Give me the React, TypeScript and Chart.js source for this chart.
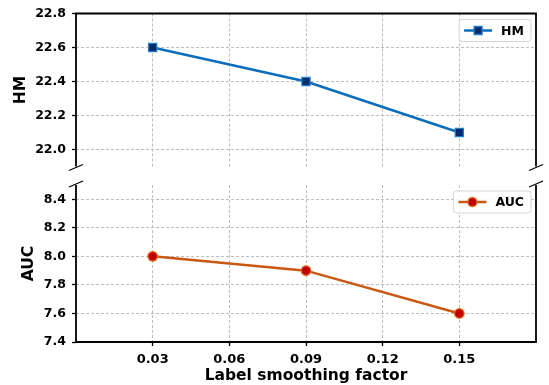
import React, { useEffect, useRef } from "react";
import { Chart, registerables } from "chart.js";

Chart.register(...registerables);

const xValues = [0.03, 0.09, 0.15];
const hmValues = [22.6, 22.4, 22.1];
const aucValues = [8.0, 7.9, 7.6];
const xTicks = [0.03, 0.06, 0.09, 0.12, 0.15];
const hmTicks = [22.0, 22.2, 22.4, 22.6, 22.8];
const aucTicks = [7.4, 7.6, 7.8, 8.0, 8.2, 8.4];

const FONT = "DejaVu Sans";
const GRID = "#bdbdbd";

type Part = "top" | "bottom";

function spinesPlugin(part: Part, legend: { label: string; line: string; fill: string; edge: string; style: string }) {
  return {
    id: "spines-" + part,
    afterDraw(chart: any) {
      const { ctx, chartArea } = chart;
      const { left, right, top, bottom } = chartArea;
      ctx.save();
      ctx.strokeStyle = "#000";
      ctx.lineWidth = 1.8;
      ctx.lineCap = "butt";
      ctx.beginPath();
      if (part === "top") {
        ctx.moveTo(left, bottom);
        ctx.lineTo(left, top);
        ctx.lineTo(right, top);
        ctx.lineTo(right, bottom);
      } else {
        ctx.moveTo(left, top);
        ctx.lineTo(left, bottom);
        ctx.lineTo(right, bottom);
        ctx.lineTo(right, top);
      }
      ctx.stroke();
      // break marks
      const by = part === "top" ? bottom + 1 : top - 1;
      ctx.lineWidth = 1.2;
      for (const bx of [left, right]) {
        ctx.beginPath();
        ctx.moveTo(bx - 7, by + 3);
        ctx.lineTo(bx + 7, by - 3);
        ctx.stroke();
      }
      // legend
      ctx.font = `bold 12.5px '${FONT}'`;
      const tw = ctx.measureText(legend.label).width;
      const boxW = 5 + 28 + 9 + tw + 7;
      const boxH = 22;
      const bx0 = right - 5 - boxW;
      const by0 = top + 6;
      ctx.beginPath();
      const r = 3;
      ctx.moveTo(bx0 + r, by0);
      ctx.lineTo(bx0 + boxW - r, by0);
      ctx.quadraticCurveTo(bx0 + boxW, by0, bx0 + boxW, by0 + r);
      ctx.lineTo(bx0 + boxW, by0 + boxH - r);
      ctx.quadraticCurveTo(bx0 + boxW, by0 + boxH, bx0 + boxW - r, by0 + boxH);
      ctx.lineTo(bx0 + r, by0 + boxH);
      ctx.quadraticCurveTo(bx0, by0 + boxH, bx0, by0 + boxH - r);
      ctx.lineTo(bx0, by0 + r);
      ctx.quadraticCurveTo(bx0, by0, bx0 + r, by0);
      ctx.closePath();
      ctx.fillStyle = "rgba(255,255,255,0.85)";
      ctx.fill();
      ctx.strokeStyle = "#d6d6d6";
      ctx.lineWidth = 1;
      ctx.stroke();
      const cy = by0 + boxH / 2;
      ctx.strokeStyle = legend.line;
      ctx.lineWidth = 2.5;
      ctx.beginPath();
      ctx.moveTo(bx0 + 5, cy);
      ctx.lineTo(bx0 + 33, cy);
      ctx.stroke();
      const mx = bx0 + 19;
      ctx.fillStyle = legend.fill;
      ctx.strokeStyle = legend.edge;
      ctx.lineWidth = 1.3;
      ctx.beginPath();
      if (legend.style === "rect") {
        ctx.rect(mx - 4, cy - 4, 8, 8);
      } else {
        ctx.arc(mx, cy, 4.5, 0, Math.PI * 2);
      }
      ctx.fill();
      ctx.stroke();
      ctx.fillStyle = "#000";
      ctx.textBaseline = "middle";
      ctx.textAlign = "left";
      ctx.fillText(legend.label, bx0 + 42, cy + 1);
      ctx.restore();
    },
  };
}

function makeX(showLabels: boolean) {
  return {
    type: "linear",
    min: 0,
    max: 0.18,
    afterBuildTicks: (s: any) => {
      s.ticks = xTicks.map((v) => ({ value: v }));
    },
    afterFit: (s: any) => {
      s.height = showLabels ? 43 : 0;
    },
    border: { display: false, dash: [3, 2] },
    grid: {
      color: GRID,
      lineWidth: 1,
      drawTicks: showLabels,
      tickLength: 4,
      tickColor: "#000",
      tickWidth: 1.3,
      tickBorderDash: [],
    },
    ticks: {
      display: showLabels,
      padding: 5.5,
      color: "#000",
      font: { family: FONT, size: 13, weight: "bold" },
      callback: (v: any) => Number(v).toFixed(2),
      maxRotation: 0,
    },
    title: {
      display: showLabels,
      text: "Label smoothing factor",
      color: "#000",
      font: { family: FONT, size: 15.5, weight: "bold" },
      padding: { top: 0.5, bottom: 0 },
    },
  };
}

function makeY(min: number, max: number, ticks: number[], title: string, titlePad: number) {
  return {
    type: "linear",
    min,
    max,
    afterBuildTicks: (s: any) => {
      s.ticks = ticks.map((v) => ({ value: v }));
    },
    afterFit: (s: any) => {
      s.width = 76;
    },
    border: { display: false, dash: [3, 2] },
    grid: {
      color: GRID,
      lineWidth: 1,
      drawTicks: true,
      tickLength: 4,
      tickColor: "#000",
      tickWidth: 1.3,
      tickBorderDash: [],
    },
    ticks: {
      padding: 6,
      color: "#000",
      font: { family: FONT, size: 12.5, weight: "bold" },
      callback: (v: any) => Number(v).toFixed(1),
    },
    title: {
      display: true,
      text: title,
      color: "#000",
      font: { family: FONT, size: 15.5, weight: "bold" },
      padding: { top: titlePad, bottom: 0 },
    },
  };
}

export default function App() {
  const topRef = useRef<HTMLCanvasElement>(null);
  const botRef = useRef<HTMLCanvasElement>(null);

  useEffect(() => {
    Chart.defaults.font.family = FONT;
    const top = new Chart(topRef.current as HTMLCanvasElement, {
      type: "line",
      data: {
        datasets: [
          {
            label: "HM",
            data: xValues.map((x, i) => ({ x, y: hmValues[i] })),
            borderColor: "#0a6ebd",
            borderWidth: 2.5,
            pointStyle: "rect",
            pointRadius: 5.8,
            pointBackgroundColor: "#062d6b",
            pointBorderColor: "#1f80d0",
            pointBorderWidth: 1.2,
            tension: 0,
          },
        ],
      },
      options: {
        animation: false,
        responsive: false,
        devicePixelRatio: 1,
        layout: { padding: { left: 0, right: 13, top: 12, bottom: 12 } },
        plugins: { legend: { display: false }, tooltip: { enabled: false } },
        scales: {
          x: makeX(false) as any,
          y: makeY(21.9, 22.8, hmTicks, "HM", 11.7) as any,
        },
      },
      plugins: [
        spinesPlugin("top", { label: "HM", line: "#0a6ebd", fill: "#062d6b", edge: "#1f80d0", style: "rect" }),
      ],
    });
    const bot = new Chart(botRef.current as HTMLCanvasElement, {
      type: "line",
      data: {
        datasets: [
          {
            label: "AUC",
            data: xValues.map((x, i) => ({ x, y: aucValues[i] })),
            borderColor: "#c9570f",
            borderWidth: 2.5,
            pointStyle: "circle",
            pointRadius: 4.8,
            pointBackgroundColor: "#c00000",
            pointBorderColor: "#e0701a",
            pointBorderWidth: 1.2,
            tension: 0,
          },
        ],
      },
      options: {
        animation: false,
        responsive: false,
        devicePixelRatio: 1,
        layout: { padding: { left: 0, right: 13, top: 185, bottom: 0 } },
        plugins: { legend: { display: false }, tooltip: { enabled: false } },
        scales: {
          x: makeX(true) as any,
          y: makeY(7.4, 8.5, aucTicks, "AUC", 19.7) as any,
        },
      },
      plugins: [
        spinesPlugin("bottom", { label: "AUC", line: "#c9570f", fill: "#c00000", edge: "#e0701a", style: "circle" }),
      ],
    });
    return () => {
      top.destroy();
      bot.destroy();
    };
  }, []);

  return (
    <div style={{ position: "absolute", left: 0, top: 0, width: 549, height: 385, background: "#fff" }}>
      <canvas ref={botRef} width={549} height={385} style={{ position: "absolute", left: 0, top: 0 }} />
      <canvas ref={topRef} width={549} height={180} style={{ position: "absolute", left: 0, top: 0 }} />
    </div>
  );
}
